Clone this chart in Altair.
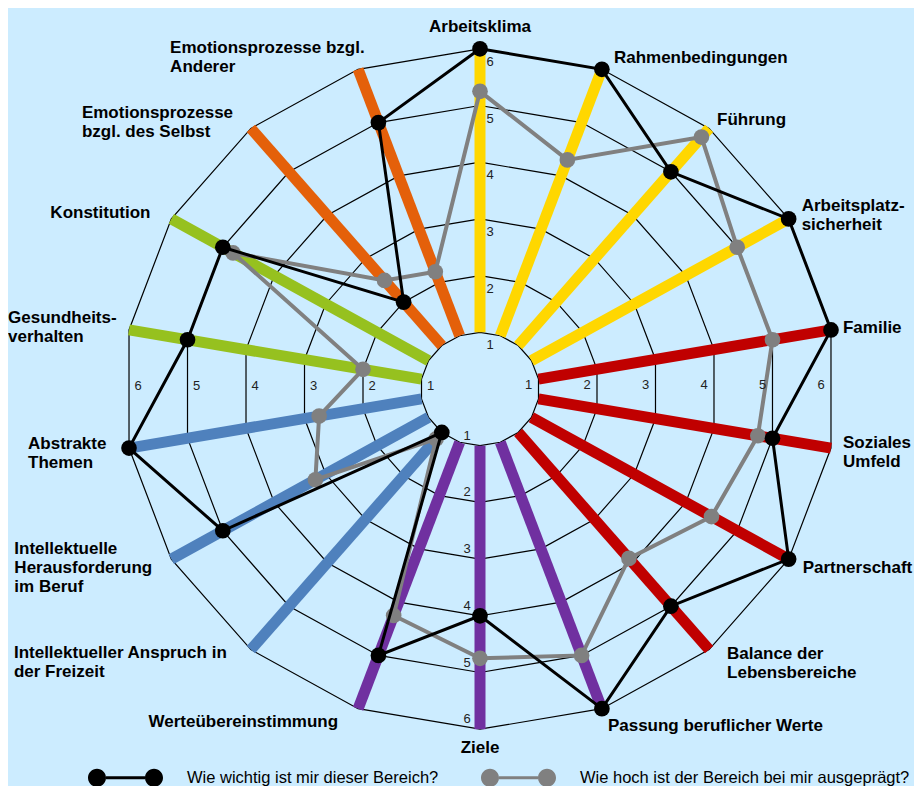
import math
import altair as alt
import pandas as pd

# ---------------- data ----------------
CATEGORIES = [
    "Arbeitsklima", "Rahmenbedingungen", "Führung", "Arbeitsplatzsicherheit",
    "Familie", "Soziales Umfeld", "Partnerschaft", "Balance der Lebensbereiche",
    "Passung beruflicher Werte", "Ziele", "Werteübereinstimmung",
    "Intellektueller Anspruch in der Freizeit", "Intellektuelle Herausforderung im Beruf",
    "Abstrakte Themen", "Gesundheitsverhalten", "Konstitution",
    "Emotionsprozesse bzgl. des Selbst", "Emotionsprozesse bzgl. Anderer",
]
LABELS = [
    "Arbeitsklima", "Rahmenbedingungen", "Führung", "Arbeitsplatz-\nsicherheit",
    "Familie", "Soziales\nUmfeld", "Partnerschaft", "Balance der\nLebensbereiche",
    "Passung beruflicher Werte", "Ziele", "Werteübereinstimmung",
    "Intellektueller Anspruch in\nder Freizeit", "Intellektuelle\nHerausforderung\nim Beruf",
    "Abstrakte\nThemen", "Gesundheits-\nverhalten", "Konstitution",
    "Emotionsprozesse\nbzgl. des Selbst", "Emotionsprozesse bzgl.\nAnderer",
]
GROUPS = (["Arbeit"] * 4 + ["Sozial"] * 4 + ["Werte"] * 3 + ["Intellekt"] * 3
          + ["Koerper"] * 2 + ["Emotion"] * 2)
GROUP_NAMES = ["Arbeit", "Sozial", "Werte", "Intellekt", "Koerper", "Emotion"]
GROUP_COLORS = ["#FFD700", "#C00000", "#7030A0", "#4F81BD", "#96C11F", "#E4600A"]

WICHTIG = [6, 6, 5, 6, 6, 5, 6, 5, 6, 4, 5, 1, 5, 6, 5, 5, 2, 5]
AUSGEPRAEGT = [5.25, 4.3, 5.8, 5.0, 5.0, 4.75, 4.5, 3.9, 5.0, 4.75, 4.25, 1.15,
               3.2, 2.75, 2.0, 4.8, 2.5, 2.2]
LEVELS = [1, 2, 3, 4, 5, 6]
SERIES = ["Wie wichtig ist mir dieser Bereich?",
          "Wie hoch ist der Bereich bei mir ausgeprägt?"]
SERIES_COLORS = ["#000000", "#808080"]

# ---------------- layout ----------------
W, H = 906, 778
CX, CY = 472.0, 381.0
SX, SY = 59.4, 56.7
XDOM = [-CX / SX, (W - CX) / SX]
YDOM = [-(H - CY) / SY, CY / SY]
N = len(CATEGORIES)
LABEL_FS, LABEL_LH = 17, 19

# label offsets (px, centre of text block) from outer vertex, and alignment
LABEL_OFFSETS = [(0, -22), (12, -11), (8, -8), (13, -3), (12, -2), (12, 4), (14, 9),
                 (18, 14), (6, 17), (0, 19), (-20, 13), (-237, 13), (-157, 9),
                 (-101, 5), (-121, -2), (-121, -6), (-169, -6), (-188, -12)]
LABEL_ALIGN = ["center", "left", "left", "left", "left", "left", "left", "left", "left",
               "center", "right", "left", "left", "left", "left", "left", "left", "left"]


def ang(i):
    return math.radians(90 - 20 * i)


xs = alt.Scale(domain=XDOM, nice=False, zero=False)
ys = alt.Scale(domain=YDOM, nice=False, zero=False)


def X(f="x"):
    return alt.X(f"{f}:Q", scale=xs, axis=None)


def Y(f="y"):
    return alt.Y(f"{f}:Q", scale=ys, axis=None)


# rings
ring_rows = []
for lv in LEVELS:
    for j in range(N + 1):
        a = ang(j % N)
        ring_rows.append(dict(level=lv, o=j, x=lv * math.cos(a), y=lv * math.sin(a)))
rings = alt.Chart(pd.DataFrame(ring_rows)).mark_line(
    color="black", strokeWidth=1.2
).encode(x=X(), y=Y(), detail="level:N", order="o:Q")

# colored spokes
bar_rows = []
for i, (c, g) in enumerate(zip(CATEGORIES, GROUPS)):
    a = ang(i)
    bar_rows.append(dict(cat=c, group=g,
                         x=LEVELS[0] * math.cos(a), y=LEVELS[0] * math.sin(a),
                         x2=LEVELS[-1] * math.cos(a), y2=LEVELS[-1] * math.sin(a)))
bars = alt.Chart(pd.DataFrame(bar_rows)).mark_rule(
    strokeWidth=11, strokeCap="butt"
).encode(
    x=X(), y=Y(), x2=alt.X2("x2:Q"), y2=alt.Y2("y2:Q"),
    stroke=alt.Stroke("group:N", scale=alt.Scale(domain=GROUP_NAMES, range=GROUP_COLORS),
                      legend=None),
)

# series
ser_rows = []
for s, vals in zip(SERIES, [WICHTIG, AUSGEPRAEGT]):
    for j in range(N + 1):
        i = j % N
        a = ang(i)
        ser_rows.append(dict(series=s, cat=CATEGORIES[i], o=j, value=vals[i],
                             x=vals[i] * math.cos(a), y=vals[i] * math.sin(a)))
ser_df = pd.DataFrame(ser_rows)

PATH = ("M-1,0A0.24,0.24 0 1,0 -0.52,0A0.24,0.24 0 1,0 -1,0Z "
        "M0.52,0A0.24,0.24 0 1,0 1,0A0.24,0.24 0 1,0 0.52,0Z "
        "M-0.52,-0.04L0.52,-0.04L0.52,0.04L-0.52,0.04Z")
LEG = alt.Legend(title=None, orient="none", legendX=80, legendY=732, direction="horizontal",
                 symbolType=PATH, symbolSize=5625, symbolStrokeWidth=0,
                 labelFont="Liberation Sans", labelFontSize=16.5, labelColor="black",
                 labelOffset=24, labelLimit=600, columnPadding=42, padding=0)
color_enc = alt.Color("series:N", scale=alt.Scale(domain=SERIES, range=SERIES_COLORS),
                      legend=LEG)

series_layers = []
for s, col, lw in [(SERIES[1], SERIES_COLORS[1], 4), (SERIES[0], SERIES_COLORS[0], 3)]:
    line = alt.Chart(ser_df).transform_filter(alt.datum.series == s).mark_line(
        color=col, strokeWidth=lw
    ).encode(x=X(), y=Y(), order="o:Q")
    pts = alt.Chart(ser_df[ser_df.o < N]).transform_filter(alt.datum.series == s).mark_circle(
        size=245, opacity=1
    ).encode(x=X(), y=Y(), color=color_enc)
    series_layers += [line, pts]

# ring tick labels
c10 = math.cos(math.radians(10))
tick_specs = [(0, 1, 10, 13), (c10, 0, -10, -4), (-c10, 0, 9, -3), (0, -1, -13, -10)]
tick_layers = []
for ux, uy, ddx, ddy in tick_specs:
    tdf = pd.DataFrame(dict(x=[ux * lv for lv in LEVELS], y=[uy * lv for lv in LEVELS],
                            t=[str(lv) for lv in LEVELS]))
    tick_layers.append(alt.Chart(tdf).mark_text(
        dx=ddx, dy=ddy, fontSize=13, font="Liberation Sans", color="#222222",
        align="center", baseline="middle"
    ).encode(x=X(), y=Y(), text="t:N"))

# category labels (y refers to first line: shift block centre up)
lab_rows = []
for i, (lab, (ox, oy), al) in enumerate(zip(LABELS, LABEL_OFFSETS, LABEL_ALIGN)):
    a = ang(i)
    nlines = lab.count("\n") + 1
    oy_first = oy - (nlines - 1) * LABEL_LH / 2
    lab_rows.append(dict(label=lab, align=al,
                         x=6 * math.cos(a) + ox / SX, y=6 * math.sin(a) - oy_first / SY))
lab_df = pd.DataFrame(lab_rows)
label_layers = []
for al in ["left", "center", "right"]:
    label_layers.append(alt.Chart(lab_df).transform_filter(alt.datum.align == al).mark_text(
        align=al, baseline="middle", font="Liberation Sans", fontSize=LABEL_FS,
        fontWeight="bold", lineBreak="\n", lineHeight=LABEL_LH, color="black"
    ).encode(x=X(), y=Y(), text="label:N"))

chart = alt.layer(
    rings, bars, *series_layers, *tick_layers, *label_layers
).properties(
    width=W, height=H, padding=0,
    autosize=alt.AutoSizeParams(type="none"),
    background="#CCECFF",
).configure_view(stroke=None)

chart.save("out.html", embed_options={"renderer": "svg", "actions": False})
